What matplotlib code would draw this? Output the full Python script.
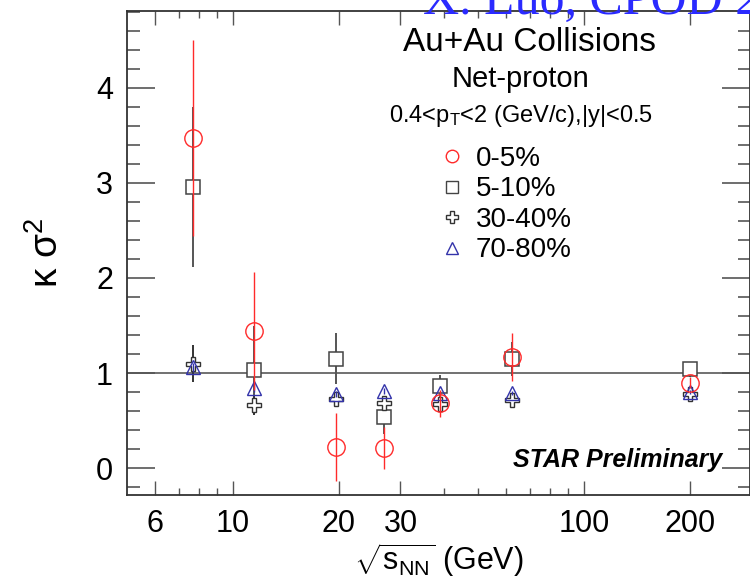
import matplotlib
matplotlib.use("Agg")
import matplotlib.pyplot as plt
from matplotlib.lines import Line2D
from matplotlib.ticker import FixedLocator, NullFormatter, MultipleLocator

plt.rcParams['font.family'] = ['Liberation Sans', 'DejaVu Sans']
plt.rcParams['mathtext.fontset'] = 'custom'
plt.rcParams['mathtext.rm'] = 'Liberation Sans'
plt.rcParams['mathtext.it'] = 'Liberation Sans:italic'

# beam energies (GeV)
energies = [7.7, 11.5, 19.6, 27, 39, 62.4, 200]

# kappa*sigma^2 and errors per centrality
k_0_5 = [3.47, 1.44, 0.22, 0.21, 0.68, 1.17, 0.90]
e_0_5 = [1.03, 0.62, 0.36, 0.22, 0.14, 0.25, 0.06]
k_5_10 = [2.96, 1.03, 1.15, 0.54, 0.86, 1.15, 1.04]
e_5_10 = [0.84, 0.46, 0.27, 0.18, 0.12, 0.18, 0.08]
k_30_40 = [1.10, 0.66, 0.73, 0.68, 0.67, 0.72, 0.78]
e_30_40 = [0.19, 0.10, 0.05, 0.05, 0.04, 0.04, 0.03]
k_70_80 = [1.06, 0.84, 0.78, 0.81, 0.79, 0.79, 0.80]
e_70_80 = [0.05, 0.04, 0.03, 0.03, 0.02, 0.02, 0.02]

labels = ["0-5%", "5-10%", "30-40%", "70-80%"]
xtick_vals = [6, 10, 20, 30, 100, 200]

fig = plt.figure(figsize=(7.5, 5.8), dpi=100)
ax = fig.add_axes([127/750, 85/580, 623/750, 484/580])

ax.axhline(1, color='#666666', lw=1.3, zorder=1)

ax.errorbar(energies, k_5_10, yerr=e_5_10, fmt='s', ms=9.5, mfc='white', mec='#444444',
            mew=1.1, ecolor='#555555', elinewidth=1.4, capsize=0, zorder=3)
ax.errorbar(energies, k_30_40, yerr=e_30_40, fmt='P', ms=10, mfc='white', mec='#333333',
            mew=1.0, ecolor='#333333', elinewidth=1.4, capsize=0, zorder=4)
ax.errorbar(energies, k_70_80, yerr=e_70_80, fmt='^', ms=10, mfc='none', mec='#3333aa',
            mew=1.0, ecolor='#3333aa', elinewidth=1.0, capsize=0, zorder=5)
ax.errorbar(energies, k_0_5, yerr=e_0_5, fmt='o', ms=12.5, mfc='none', mec='#ff2a2a',
            mew=1.0, ecolor='#ff2a2a', elinewidth=1.0, capsize=0, zorder=6)

ax.set_xscale('log')
ax.set_xlim(4.99, 297)
ax.set_ylim(-0.284, 4.81)

ax.xaxis.set_major_locator(FixedLocator([10, 100]))
ax.xaxis.set_minor_locator(FixedLocator([6, 7, 8, 9, 20, 30, 40, 50, 60, 70, 80, 90, 200]))
ax.xaxis.set_minor_formatter(NullFormatter())
ax.set_xticks(xtick_vals, minor=False)
ax.set_xticklabels([str(v) for v in xtick_vals])
ax.yaxis.set_major_locator(MultipleLocator(1))
ax.yaxis.set_minor_locator(MultipleLocator(0.2))

ax.tick_params(which='major', axis='x', direction='in', length=10, width=1, top=True,
               labelsize=22, pad=10, color='#555555')
ax.tick_params(which='minor', axis='x', direction='in', length=5, width=1, top=True,
               color='#555555')
ax.tick_params(which='major', axis='y', direction='in', length=20, width=1.2, right=True,
               labelsize=22, pad=10, color='#555555')
ax.tick_params(which='minor', axis='y', direction='in', length=9, width=1.2, right=True,
               color='#555555')
for s in ax.spines.values():
    s.set_color('#333333')
    s.set_linewidth(1.3)

ax.set_ylabel(r'κ σ$^{2}$', fontsize=28, labelpad=22)
ax.set_xlabel(r'$\sqrt{\mathrm{s}_{\mathrm{NN}}}$ (GeV)', fontsize=22, labelpad=2)

ax.text(0.646, 0.935, "Au+Au Collisions", transform=ax.transAxes,
        ha='center', va='center', fontsize=24)
ax.text(0.632, 0.86, "Net-proton", transform=ax.transAxes,
        ha='center', va='center', fontsize=21)
ax.text(0.632, 0.783, r'0.4<p$_{\mathrm{T}}$<2 (GeV/c),|y|<0.5', transform=ax.transAxes,
        ha='center', va='center', fontsize=17)
ax.text(0.955, 0.072, "STAR Preliminary", transform=ax.transAxes,
        ha='right', va='center', fontsize=18, fontweight='bold', fontstyle='italic')

handles = [
    Line2D([], [], ls='none', marker='o', ms=9, mfc='none', mec='#ff2a2a', mew=1.0),
    Line2D([], [], ls='none', marker='s', ms=8, mfc='none', mec='#444444', mew=1.0),
    Line2D([], [], ls='none', marker='P', ms=8, mfc='white', mec='#333333', mew=1.0),
    Line2D([], [], ls='none', marker='^', ms=8, mfc='none', mec='#3333aa', mew=1.0),
]
fig.legend(handles, labels, loc='upper left', bbox_to_anchor=(438/750, 1 - 146/580),
           bbox_transform=fig.transFigure, frameon=False, fontsize=20,
           handlelength=1.0, handletextpad=0.35, labelspacing=0.16,
           borderpad=0, borderaxespad=0)

fig.text(423/750, 1 - 14/580, "X. Luo, CPOD 2013", fontsize=36, color='#2a2aff',
         family='Liberation Serif', ha='left', va='baseline', zorder=10)

fig.savefig("out.png", dpi=100)
